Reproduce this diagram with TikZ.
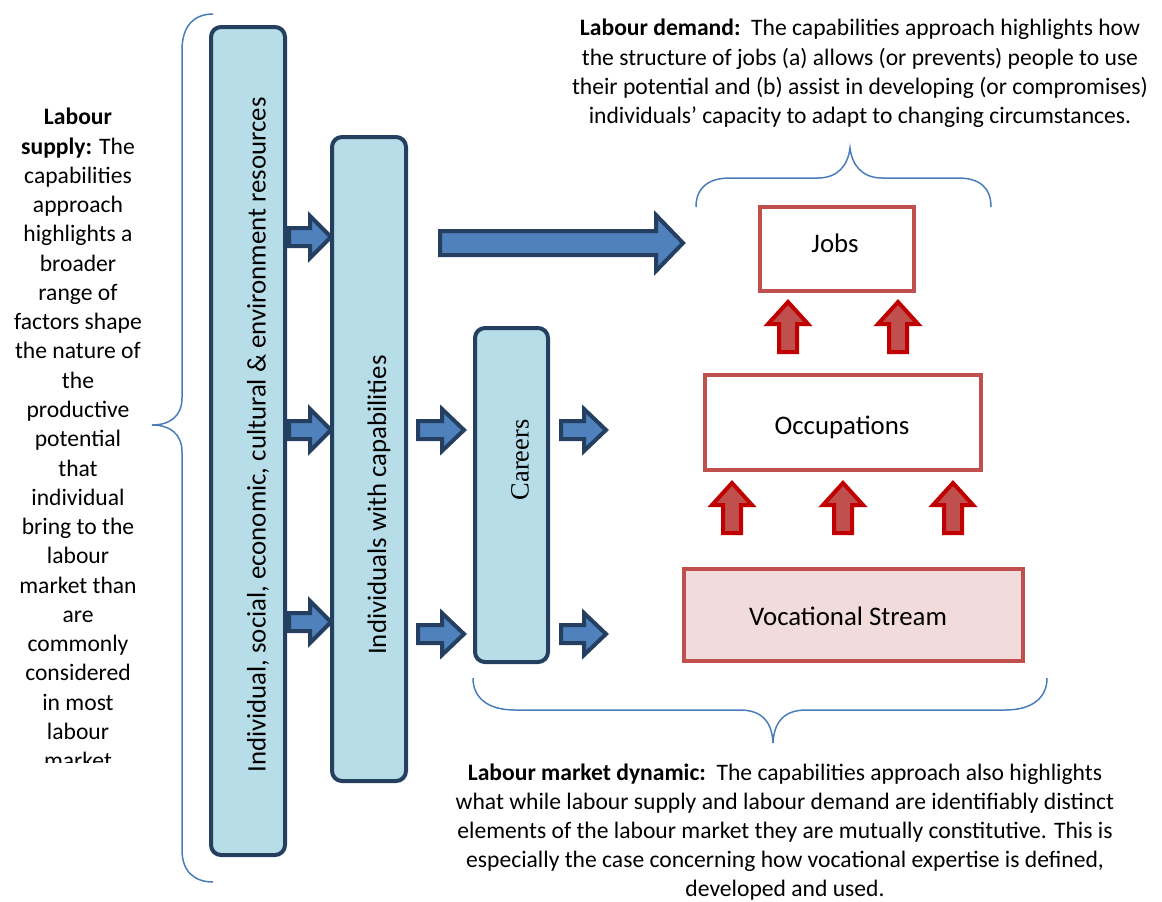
\documentclass[tikz,border=0pt]{standalone}
\usepackage{fontspec}
\setmainfont{Carlito}
\newfontfamily\careerfont{Liberation Serif}
\newdimen\px \px=0.75pt
\definecolor{boxfill}{HTML}{B7DEE8}
\definecolor{navy}{HTML}{243F60}
\definecolor{arrowblue}{HTML}{4F81BD}
\definecolor{bracecol}{HTML}{4A7EBB}
\definecolor{redline}{HTML}{C0504D}
\definecolor{darkred}{HTML}{C00000}
\definecolor{pinkfill}{HTML}{F2DCDB}
\newcommand{\BArrow}[7]{%
 \draw[#7] (#1,{#3-#5}) -- ({#2-#4},{#3-#5}) -- ({#2-#4},{#3-#6}) -- (#2,#3) -- ({#2-#4},{#3+#6}) -- ({#2-#4},{#3+#5}) -- (#1,{#3+#5}) -- cycle;}
\newcommand{\UArrow}[7]{%
 \draw[#7] ({#1-#5},#2) -- ({#1-#5},{#3+#4}) -- ({#1-#6},{#3+#4}) -- (#1,#3) -- ({#1+#6},{#3+#4}) -- ({#1+#5},{#3+#4}) -- ({#1+#5},#2) -- cycle;}
\tikzset{
 bluebox/.style={rectangle, rounded corners=10\px, fill=boxfill, draw=navy, line width=4\px, inner sep=0pt},
 redbox/.style={rectangle, fill=white, draw=redline, line width=4\px, inner sep=0pt},
 boxtext/.style={font=\fontsize{20.1}{24}\selectfont, inner sep=0pt},
 sidetext/.style={font=\fontsize{17.7}{21.95}\selectfont, align=center, inner sep=0pt},
 bluearrow/.style={fill=arrowblue, draw=navy, line width=4\px, line join=miter},
 redarrow/.style={fill=redline, draw=darkred, line width=4\px, line join=miter},
 brace/.style={draw=bracecol, line width=1.5\px}
}
\begin{document}
\begin{tikzpicture}[x=1\px, y=-1\px]
\useasboundingbox (0,0) rectangle (1162,901);
% boxes
\node[bluebox, minimum width=74\px, minimum height=828\px] (res) at (248,441) {};
\node[bluebox, minimum width=74\px, minimum height=644\px] (ind) at (369,459) {};
\node[bluebox, minimum width=73\px, minimum height=334\px] (car) at (511.5,495) {};
\node[boxtext, rotate=90] (restext) at (258,435) {Individual, social, economic, cultural \& environment resources};
\node[boxtext, rotate=90] (indtext) at (379,505) {Individuals with capabilities};
\node[rotate=90, inner sep=0pt, font=\careerfont\fontsize{19.8}{23}\selectfont] (cartext) at (520,460) {Careers};
\node[redbox, minimum width=154\px, minimum height=84\px] (jobs) at (837,249) {};
\node[redbox, minimum width=276\px, minimum height=95\px] (occ) at (843,422.5) {};
\node[redbox, fill=pinkfill, minimum width=339\px, minimum height=92\px] (voc) at (853.5,615) {};
\node[boxtext, anchor=base] (jobstext) at (835,252) {Jobs};
\node[boxtext, anchor=base] (occtext) at (842,434) {Occupations};
\node[boxtext, anchor=base] (voctext) at (848,625) {Vocational Stream};
% blue arrows
\BArrow{289}{331}{237}{21}{9}{21}{bluearrow}
\BArrow{289}{331}{430}{21}{9}{21}{bluearrow}
\BArrow{289}{331}{622}{21}{9}{21}{bluearrow}
\BArrow{418}{464}{430}{22}{9}{21}{bluearrow}
\BArrow{418}{464}{634}{22}{9}{21}{bluearrow}
\BArrow{561}{606}{430}{22}{9}{21}{bluearrow}
\BArrow{561}{606}{634}{22}{9}{21}{bluearrow}
\BArrow{440}{683}{243}{27}{12}{28}{bluearrow}
% red arrows
\UArrow{788}{352}{302}{22}{9}{20}{redarrow}
\UArrow{898}{352}{302}{22}{9}{20}{redarrow}
\UArrow{732}{533}{483}{22}{9}{20}{redarrow}
\UArrow{843}{533}{483}{22}{9}{20}{redarrow}
\UArrow{953}{533}{483}{22}{9}{20}{redarrow}
% braces
\draw[brace] (213,14) .. controls (195,14) and (182,25) .. (182,50) -- (182,398) .. controls (182,416) and (170,425) .. (152,425) .. controls (170,425) and (182,434) .. (182,452) -- (182,850) .. controls (182,872) and (195,882) .. (213,882);
\draw[brace] (696,207) .. controls (696,188) and (708,178) .. (730,178) -- (818,178) .. controls (838,178) and (848,165) .. (850,148) .. controls (852,165) and (862,178) .. (882,178) -- (958,178) .. controls (980,178) and (991,188) .. (991,207);
\draw[brace] (473,678) .. controls (473,698) and (488,710) .. (515,710) -- (740,710) .. controls (762,710) and (772,722) .. (773,743) .. controls (774,722) and (784,710) .. (806,710) -- (1005,710) .. controls (1032,710) and (1047,698) .. (1047,678);
% texts
\begin{scope}
\clip (0,0) rectangle (170,762);
\node[sidetext, anchor=north] (supply) at (78,108) {\textbf{Labour}\\ \textbf{supply:} The\\ capabilities\\ approach\\ highlights a\\ broader\\ range of\\ factors shape\\ the nature of\\ the\\ productive\\ potential\\ that\\ individual\\ bring to the\\ labour\\ market than\\ are\\ commonly\\ considered\\ in most\\ labour\\ market};
\end{scope}
\node[sidetext, anchor=north] (demand) at (860,19) {\textbf{Labour demand:}\ \ The capabilities approach highlights how\\ the structure of jobs (a) allows (or prevents) people to use\\ their potential and (b) assist in developing (or compromises)\\ individuals’ capacity to adapt to changing circumstances.};
\node[sidetext, anchor=north, font=\fontsize{17.7}{21.7}\selectfont] (dynamic) at (785,764) {\textbf{Labour market dynamic:}\ \ The capabilities approach also highlights\\ what while labour supply and labour demand are identifiably distinct\\ elements of the labour market they are mutually constitutive. This is\\ especially the case concerning how vocational expertise is defined,\\ developed and used.};
\end{tikzpicture}
\end{document}
